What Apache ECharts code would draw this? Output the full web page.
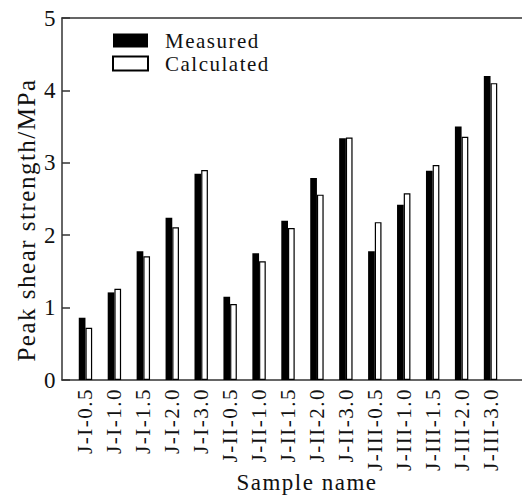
<!DOCTYPE html>
<html>
<head>
<meta charset="utf-8">
<script src="https://cdn.jsdelivr.net/npm/echarts@6/dist/echarts.min.js"></script>
<style>
  html, body { margin: 0; padding: 0; background: #fff; }
  #chart { width: 522px; height: 495px; }
  #chart svg text { letter-spacing: 1.5px; }
</style>
</head>
<body>
<div id="chart"></div>
<script>
const categories = ['J-I-0.5','J-I-1.0','J-I-1.5','J-I-2.0','J-I-3.0',
  'J-II-0.5','J-II-1.0','J-II-1.5','J-II-2.0','J-II-3.0',
  'J-III-0.5','J-III-1.0','J-III-1.5','J-III-2.0','J-III-3.0'];
const measured   = [0.86, 1.21, 1.78, 2.24, 2.85, 1.15, 1.75, 2.20, 2.79, 3.34, 1.78, 2.42, 2.89, 3.50, 4.20];
const calculated = [0.72, 1.26, 1.71, 2.11, 2.90, 1.05, 1.64, 2.10, 2.56, 3.35, 2.18, 2.58, 2.97, 3.36, 4.10];
const yMin = 0, yMax = 5, yStep = 1;
const seriesNames = ['Measured', 'Calculated'];
const xTitle = 'Sample name';
const yTitle = 'Peak shear strength/MPa';

const FONT = '"Liberation Serif", "Times New Roman", serif';
const LINE = '#333';

const chart = echarts.init(document.getElementById('chart'), null, { renderer: 'svg' });
chart.setOption({
  animation: false,
  backgroundColor: '#fff',
  textStyle: { fontFamily: FONT, color: '#111' },
  grid: [
    { left: 62, right: 0, top: 18, bottom: 115 },
    { left: 71, width: 434, top: 18, bottom: 115 }
  ],
  legend: {
    orient: 'vertical',
    left: 112, top: 30, padding: 0,
    itemWidth: 35, itemHeight: 14, itemGap: 2,
    icon: 'rect',
    textStyle: { fontFamily: FONT, fontSize: 21, color: '#111', padding: [0, 0, 0, 12] },
    data: seriesNames
  },
  xAxis: [
    { type: 'value', gridIndex: 0, min: 0, max: 1, position: 'bottom',
      axisLine: { show: true, lineStyle: { color: LINE, width: 1.5 } },
      axisTick: { show: false }, axisLabel: { show: false }, splitLine: { show: false } },
    { type: 'value', gridIndex: 0, min: 0, max: 1, position: 'top',
      axisLine: { show: true, lineStyle: { color: LINE, width: 1.5 } },
      axisTick: { show: false }, axisLabel: { show: false }, splitLine: { show: false } },
    { type: 'category', gridIndex: 1, data: categories,
      axisLine: { show: false }, axisTick: { show: false },
      axisLabel: { interval: 0, rotate: 90, margin: 8, fontFamily: FONT, fontSize: 21, color: '#111' } }
  ],
  yAxis: [
    { type: 'value', gridIndex: 0, min: yMin, max: yMax, interval: yStep,
      axisLine: { show: true, lineStyle: { color: LINE, width: 1.5 } },
      axisTick: { show: true, inside: true, length: 8, lineStyle: { color: LINE, width: 1.5 } },
      axisLabel: { margin: 5, fontFamily: FONT, fontSize: 23, color: '#111' },
      splitLine: { show: false } },
    { type: 'value', gridIndex: 1, min: yMin, max: yMax, interval: yStep, show: false }
  ],
  series: [
    { name: seriesNames[0], type: 'bar', xAxisIndex: 2, yAxisIndex: 1, data: measured,
      barWidth: 6.7, barGap: '0%',
      itemStyle: { color: '#000', borderColor: '#000', borderWidth: 0 } },
    { name: seriesNames[1], type: 'bar', xAxisIndex: 2, yAxisIndex: 1, data: calculated,
      barWidth: 6.7, barGap: '0%',
      itemStyle: { color: '#fff', borderColor: '#000', borderWidth: 1.2 } }
  ],
  graphic: [
    { type: 'text', x: 26, y: 220, rotation: Math.PI / 2,
      style: { text: yTitle, font: '25px ' + FONT, fill: '#111', textAlign: 'center', textVerticalAlign: 'middle' } },
    { type: 'text', x: 307, y: 482,
      style: { text: xTitle, font: '23px ' + FONT, fill: '#111', textAlign: 'center', textVerticalAlign: 'middle' } }
  ]
});
</script>
</body>
</html>
